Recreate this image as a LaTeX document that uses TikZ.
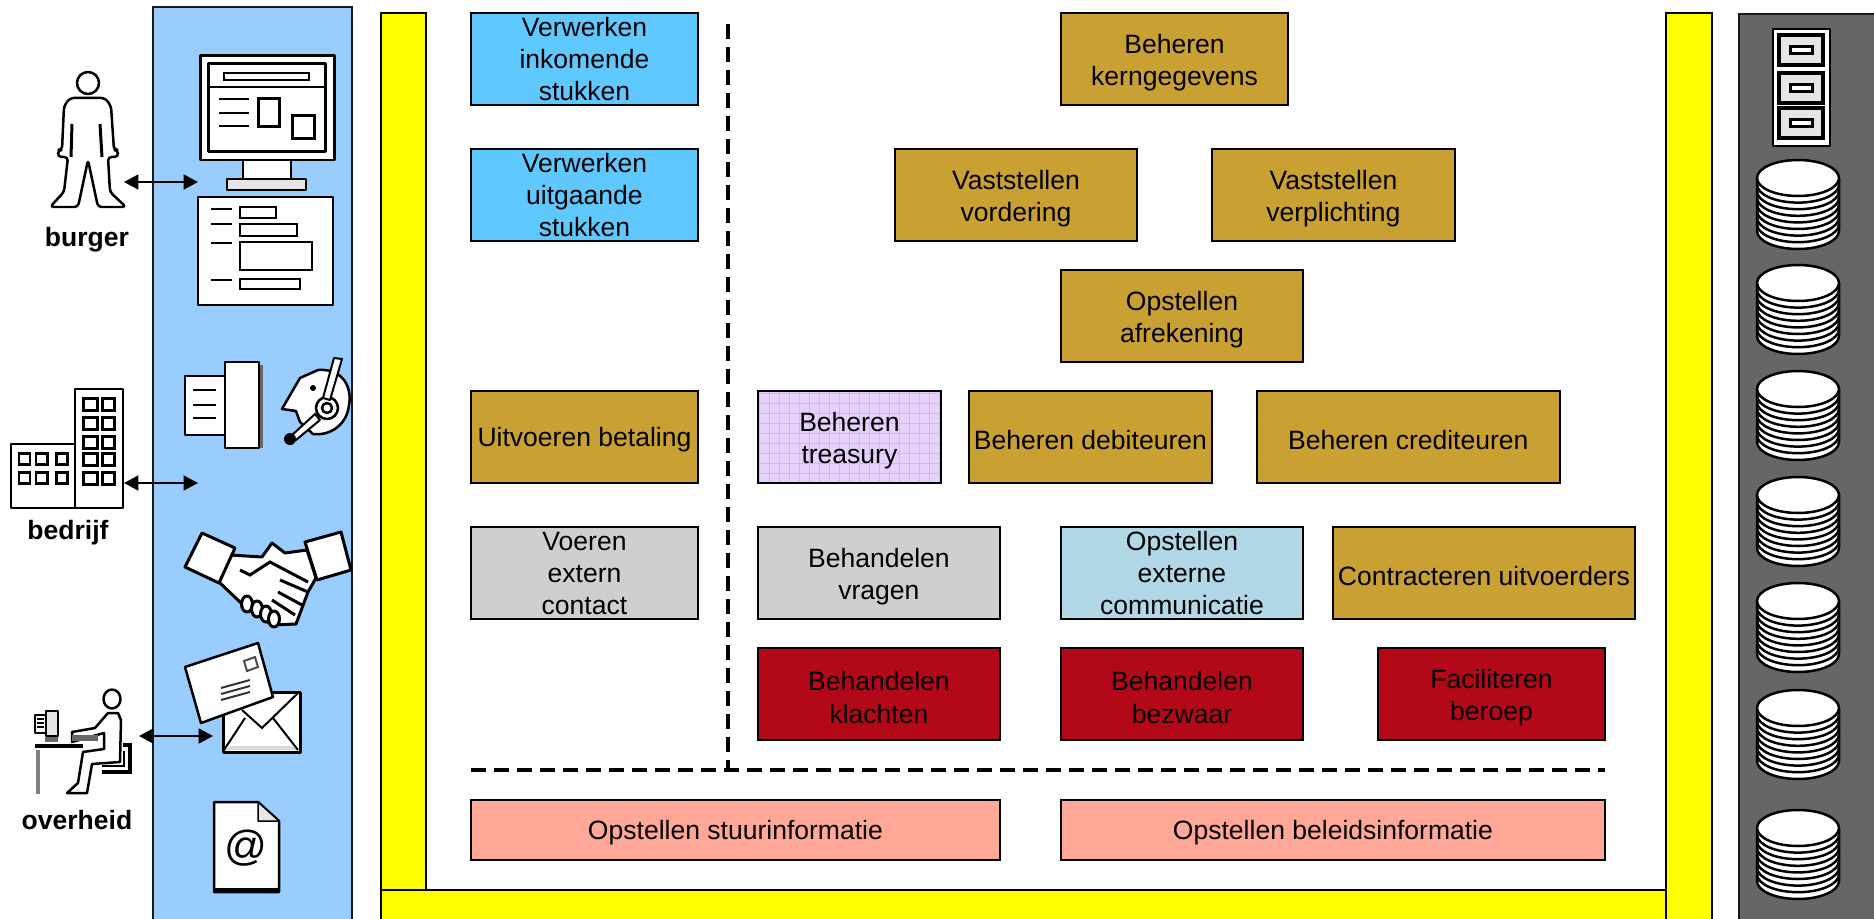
\documentclass[tikz,border=0pt]{standalone}
\usepackage{fontspec}
\setmainfont{Liberation Sans}
\usetikzlibrary{positioning, arrows.meta}

\definecolor{goudbruin}{HTML}{C9A032}
\definecolor{hemelblauw}{HTML}{5FC8FF}
\definecolor{lichtgrijs}{HTML}{CDCFD1}
\definecolor{ijsblauw}{HTML}{B0D8E6}
\definecolor{donkerrood}{HTML}{B20818}
\definecolor{zalm}{HTML}{FFA898}
\definecolor{paneelblauw}{HTML}{99CCFF}
\definecolor{paneelgrijs}{HTML}{666666}
\definecolor{lila}{HTML}{E6D2FF}
\definecolor{lilalijn}{HTML}{D4B4F8}
\definecolor{geel}{RGB}{255,255,0}

\begin{document}
\begin{tikzpicture}[
    x=0.02cm, y=-0.02cm,
    font=\fontsize{15.1}{18.4}\selectfont,
    box/.style={rectangle, draw=black, line width=0.04cm, inner sep=0pt, outer sep=0pt, text height=33.4pt,
                minimum width=4.54cm, minimum height=1.84cm, align=center, anchor=north west},
    een/.style={text height=14.5pt},
    drie/.style={text height=47.8pt},
    brown/.style={box, fill=goudbruin},
    sky/.style={box, fill=hemelblauw, drie},
    silver/.style={box, fill=lichtgrijs},
    ice/.style={box, fill=ijsblauw, drie},
    crimson/.style={box, fill=donkerrood},
    salmon/.style={box, fill=zalm, minimum height=1.2cm, een},
    treasury/.style={box, fill=lila, path picture={
        \draw[lilalijn, line width=0.01cm] (path picture bounding box.south west)
            grid[step=0.2cm] (path picture bounding box.north east);}},
    panel/.style={draw=black!90, line width=0.04cm},
    bar/.style={draw=black, fill=geel, line width=0.04cm},
    icon/.style={draw=black, fill=white, line width=0.05cm, line join=round},
    dun/.style={draw=black, line width=0.04cm},
    actor/.style={font=\fontsize{15.1}{18.4}\selectfont\bfseries},
    arrow/.style={<->, >={Triangle[length=0.29cm,width=0.3cm]}, line width=0.04cm},
    divider/.style={dashed, dash pattern=on 0.3cm off 0.16cm, line width=0.07cm}
]
\useasboundingbox (0,0) rectangle (1874,919);

% --- Panelen ---
\draw[panel, fill=paneelblauw] (153,7) rectangle (352,930);
\draw[panel, fill=paneelgrijs] (1739,14) rectangle (1885,930);
\draw[bar] (381,890) rectangle (1666,930);
\draw[bar] (381,13) rectangle (426,890);
\draw[bar] (1666,13) rectangle (1712,930);

% --- Kanaal: links ---
\node[sky] (inkomend) at (471,13) {Verwerken\\inkomende\\stukken};
\node[sky, below=0.88cm of inkomend.south west, anchor=north west] (uitgaand) {Verwerken\\uitgaande\\stukken};
\node[brown, een, below=3cm of uitgaand.south west, anchor=north west] (betaling) {Uitvoeren betaling};
\node[silver, drie, below=0.88cm of betaling.south west, anchor=north west] (contact) {Voeren\\extern\\contact};

% --- Midden: bovenste rijen ---
\node[brown] (kerngegevens) at (1061,13) {Beheren\\kerngegevens};
\node[brown, minimum width=4.84cm] (vordering) at (895,149) {Vaststellen\\vordering};
\node[brown, minimum width=4.86cm, right=1.5cm of vordering.north east, anchor=north west] (verplichting) {Vaststellen\\verplichting};
\node[brown, minimum width=4.84cm] (afrekening) at (1061,270) {Opstellen\\afrekening};

% --- Midden: financieel ---
\node[treasury, minimum width=3.66cm, right=1.2cm of betaling.north east, anchor=north west] (beheertreasury) {Beheren\\treasury};
\node[brown, een, minimum width=4.86cm, right=0.56cm of beheertreasury.north east, anchor=north west] (debiteuren) {Beheren debiteuren};
\node[brown, een, minimum width=6.06cm, right=0.9cm of debiteuren.north east, anchor=north west] (crediteuren) {Beheren crediteuren};

% --- Midden: contact ---
\node[silver, minimum width=4.84cm, below=0.88cm of beheertreasury.south west, anchor=north west] (vragen) {Behandelen\\vragen};
\node[ice, minimum width=4.84cm] (communicatie) at (1061,527) {Opstellen\\externe\\communicatie};
\node[brown, een, minimum width=6.04cm] (uitvoerders) at (1333,527) {Contracteren uitvoerders};

% --- Midden: bezwaar ---
\node[crimson, minimum width=4.84cm, below=0.58cm of vragen.south west, anchor=north west] (klachten) {Behandelen\\klachten};
\node[crimson, minimum width=4.84cm, below=0.58cm of communicatie.south west, anchor=north west] (bezwaar) {Behandelen\\bezwaar};
\node[crimson] (beroep) at (1378,648) {Faciliteren\\beroep};

% --- Onderste rij ---
\node[salmon, minimum width=10.58cm] (stuur) at (471,800) {Opstellen stuurinformatie};
\node[salmon, minimum width=10.88cm] (beleid) at (1061,800) {Opstellen beleidsinformatie};

% --- Scheidingslijnen ---
\coordinate (vboven) at (728,24);
\coordinate (vonder) at (728,770);
\coordinate (hlinks) at (471,770);
\coordinate (hrechts) at (1605,770);
\draw[divider] (vboven) -- (vonder);
\draw[divider] (hlinks) -- (hrechts);

% --- Burger ---
\node[actor] (burger) at (87,240) {burger};
\draw[icon] (88,83) circle[radius=11];
\draw[icon, rounded corners=2] (70,98) -- (105,98) -- (111,106) -- (114,150) -- (118,150) -- (118,157) -- (108,157)
    -- (110,192) -- (126,207) -- (98,207) -- (88,160) -- (78,207) -- (50,207) -- (64,192)
    -- (68,157) -- (58,157) -- (58,150) -- (62,150) -- (64,106) -- cycle;
\draw[dun, line width=0.06cm] (72,124) -- (71,157) (100,124) -- (102,157);
\coordinate (burgeruit) at (124,182);
\coordinate (burgerin) at (198,182);
\draw[arrow] (burgeruit) -- (burgerin);

% --- Beeldscherm en formulier ---
\draw[icon] (243,160) rectangle (291,179);
\draw[icon, fill=black!10] (227,179) rectangle (306,190);
\draw[icon, line width=0.06cm] (200,56) rectangle (334,160);
\draw[icon, line width=0.06cm] (208,64) rectangle (325,152);
\draw[dun] (208,87) -- (325,87);
\draw[dun] (224,73) rectangle (309,80);
\foreach \ly in {99,113,126}
    \draw[dun] (219,\ly) -- (249,\ly);
\draw[dun, line width=0.06cm] (258,99) rectangle (279,127);
\draw[dun, line width=0.06cm] (292,116) rectangle (314,139);
\draw[icon] (198,197) rectangle (333,305);
\foreach \ly in {209,224,243,280}
    \draw[dun] (211,\ly) -- (232,\ly);
\draw[dun] (240,207) rectangle (276,218);
\draw[dun] (240,224) rectangle (297,236);
\draw[dun] (240,242) rectangle (312,270);
\draw[dun] (240,279) rectangle (300,289);

% --- Bedrijf ---
\node[actor] (bedrijf) at (68,533) {bedrijf};
\draw[icon] (11,444) rectangle (75,508);
\draw[icon] (75,389) rectangle (123,508);
\foreach \wy in {398,417,436,453,472} {
    \draw[dun, line width=0.06cm] (83,\wy) rectangle +(14,12);
    \draw[dun, line width=0.06cm] (102,\wy) rectangle +(12,12);
}
\foreach \wy in {453,472}
    \foreach \wx in {19,36,56}
        \draw[dun, line width=0.06cm] (\wx,\wy) rectangle +(11,11);
\coordinate (bedrijfuit) at (124,483);
\coordinate (bedrijfin) at (198,483);
\draw[arrow] (bedrijfuit) -- (bedrijfin);

% --- Fax ---
\fill[black!60] (229,365) rectangle (263,448);
\draw[icon] (185,376) rectangle (226,435);
\draw[icon] (225,362) rectangle (259,448);
\foreach \ly in {390,405,418}
    \draw[dun] (193,\ly) -- (216,\ly);

% --- Headset ---
\draw[icon] (282,409) -- (300,378) -- (318,370) .. controls (345,368) and (352,390) .. (349,405)
    .. controls (347,425) and (330,436) .. (313,434) -- (300,422) -- (296,411) -- cycle;
\fill (313,388) circle[radius=3];
\draw[icon] (327,408) circle[radius=11];
\draw[icon] (327,408) circle[radius=5];
\draw[icon, line width=0.04cm] (334,358) -- (342,359) -- (330,400) -- (323,398) -- cycle;
\draw[icon, line width=0.04cm] (315,414) -- (320,420) -- (296,440) -- (291,436) -- cycle;
\fill (290,439) circle[radius=6];

% --- Handdruk ---
\draw[icon, line width=0.06cm] (230,555) -- (262,557) -- (272,543) -- (285,553) -- (307,550) -- (316,578) -- (308,592)
    -- (296,624) -- (272,625) -- (240,602) -- (219,582) -- cycle;
\foreach \fx/\fy in {247/604, 257/609, 266/614, 274/619}
    \draw[icon, line width=0.06cm] (\fx,\fy) ellipse[x radius=5.5, y radius=8];
\draw[dun, line width=0.06cm] (240,570) -- (250,575) -- (270,562) -- (308,582);
\draw[dun, line width=0.06cm] (280,580) -- (308,592) (278,592) -- (302,605) (272,600) -- (295,615);
\draw[icon, line width=0.06cm] (185,567) -- (202,533) -- (235,548) -- (219,583) -- cycle;
\draw[icon, line width=0.06cm] (305,542) -- (341,532) -- (351,570) -- (317,580) -- cycle;

% --- Overheid ---
\node[actor] (overheid) at (77,820) {overheid};
\draw[icon] (112,699) ellipse[x radius=8.5, y radius=9.5];
\draw[icon] (72,732) -- (95,728) -- (108,713) -- (118,713) -- (121,720) -- (120,762) -- (92,764)
    -- (87,793) -- (67,793) -- (78,783) -- (83,752) -- (104,749) -- (104,733) -- (72,742) -- cycle;
\fill[black!60] (72,735) -- (98,735) -- (98,741) -- (72,741) -- cycle;
\draw[dun, line width=0.08cm] (123,745) -- (130,745) -- (130,772) -- (102,772);
\draw[dun, line width=0.04cm] (124,751) -- (124,766) -- (102,766);
\draw[dun, line width=0.08cm] (35,746) -- (83,746);
\draw[dun, line width=0.1cm, black!50] (38,750) -- (38,794);
\draw[icon, line width=0.04cm, fill=black!10] (46,711) rectangle (58,736);
\draw[icon, line width=0.04cm] (35,715) rectangle (46,733);
\foreach \ly in {719,723,727}
    \draw[dun, line width=0.03cm] (37,\ly) -- (44,\ly);
\fill[black!60] (45,737) rectangle (58,742);
\coordinate (overheiduit) at (139,736);
\coordinate (overheidin) at (213,736);
\draw[arrow] (overheiduit) -- (overheidin);

% --- Envelop ---
\draw[icon, line width=0.06cm] (223,692) rectangle (300,752);
\fill[black!15] (225,750) -- (231,746) -- (292,746) -- (298,750) -- cycle;
\draw[dun] (224,750) -- (245,718) (242,710) -- (262,728) -- (298,693) (273,718) -- (298,750);
\draw[icon] (185,667) -- (258,643) -- (273,697) -- (201,723) -- cycle;
\draw[dun, black!70] (244,661) -- (255,657) -- (258,667) -- (247,671) -- cycle;
\foreach \ly in {0,1,2}
    \draw[dun, black!80] (221,688+\ly*6) -- (250,680+\ly*6);

% --- Document ---
\draw[icon] (214,802) -- (258,802) -- (279,821) -- (279,892) -- (214,892) -- cycle;
\fill (214,888) rectangle (279,892);
\draw[icon, fill=black!10, line width=0.03cm] (258,802) -- (258,821) -- (279,821) -- cycle;
\node[font=\fontsize{24}{24}\selectfont] (apenstaart) at (246,848) {@};

% --- Opslag ---
\draw[icon, line width=0.03cm] (1773,29) rectangle (1830,146);
\foreach \ly in {35,73,108} {
    \draw[dun, fill=black!10, line width=0.07cm] (1779,\ly) rectangle +(44,30);
    \draw[dun, fill=white, line width=0.06cm] (1790,\ly+12) rectangle +(22,7);
}
\foreach \ty in {178,283,389,495,601,708,828} {
    \draw[icon] (1757,\ty) -- (1757,\ty+53) arc[start angle=180, end angle=0, x radius=41, y radius=18] -- (1839,\ty);
    \foreach \k in {1,...,7}
        \draw[dun, line width=0.05cm] (1757,\ty+\k*6.6) arc[start angle=180, end angle=0, x radius=41, y radius=18];
    \draw[icon] (1798,\ty) ellipse[x radius=41, y radius=18];
}

\end{tikzpicture}
\end{document}
